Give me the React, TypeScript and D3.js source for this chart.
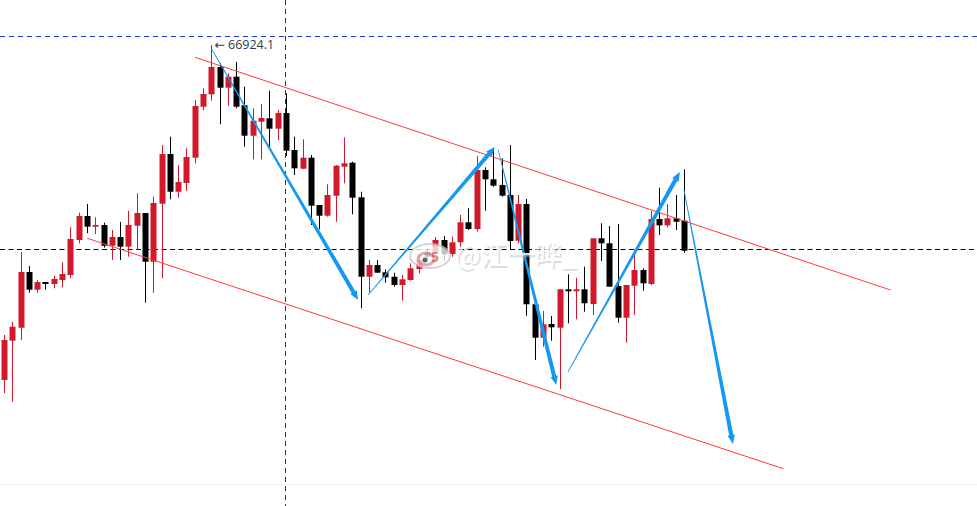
import * as d3 from "d3";

// OHLC per bar (red = rising, black = falling)
const opens = [
  63574, 63967, 64097, 64654, 64477, 64554, 64534, 64574, 64624, 64974,
  65214, 65107, 65124, 64917, 65004, 64907, 65117, 65244, 64757, 65337,
  65834, 65457, 65544, 65797, 66307, 66431, 66704, 66497, 66607, 66321,
  66017, 66157, 66191, 66087, 66244, 65874, 65687, 65797, 65324, 65217,
  65417, 65707, 65747, 65401, 64607, 64724, 64651, 64607, 64524, 64574,
  64684, 64847, 64857, 64974, 64834, 64951, 65151, 65084, 65674, 65581,
  65524, 65424, 64967, 65334, 64331, 63997, 64134, 64097, 64481, 64461,
  64481, 64334, 64991, 64941, 64514, 64197, 64517, 64674, 64534, 65184,
  65121, 65191, 65167,
];
const highs = [
  64024, 64154, 64854, 64714, 64574, 64554, 64617, 64751, 65101, 65247,
  65334, 65201, 65147, 65074, 65154, 65267, 65441, 65244, 65407, 65924,
  66007, 65724, 65891, 66374, 66491, 66924.1, 66741, 66641, 66754, 66507,
  66291, 66334, 66467, 66274, 66441, 66007, 65981, 65824, 65324, 65531,
  65724, 66001, 65757, 65457, 64774, 64774, 64681, 64647, 64624, 64741,
  64824, 64874, 65004, 65014, 65007, 65224, 65291, 65814, 65701, 65874,
  65791, 65924, 65424, 65384, 64331, 64264, 64214, 64481, 64631, 64597,
  64707, 64991, 65141, 65114, 65134, 64524, 64874, 64691, 65264, 65497,
  65334, 65424, 65681,
];
const lows = [
  63444, 63357, 63974, 64447, 64447, 64477, 64491, 64501, 64591, 64941,
  65041, 65034, 64897, 64774, 64774, 64807, 64874, 64347, 64447, 64591,
  65381, 65397, 65464, 65741, 66274, 66367, 66131, 66317, 66291, 65907,
  65781, 65781, 65891, 65974, 65814, 65624, 65681, 65124, 65081, 65207,
  65157, 65541, 65231, 64291, 64447, 64647, 64547, 64507, 64367, 64567,
  64641, 64784, 64844, 64764, 64807, 64907, 65074, 65057, 65267, 65507,
  65407, 64874, 64941, 64217, 63774, 63907, 63967, 63481, 64141, 64181,
  64257, 64224, 64764, 64507, 64147, 63947, 64224, 64467, 64524, 65024,
  65101, 65074, 64847,
];
const closes = [
  63974, 64107, 64654, 64477, 64554, 64534, 64584, 64634, 64984, 65214,
  65107, 65124, 64917, 65004, 64907, 65124, 65244, 64757, 65344, 65834,
  65457, 65554, 65804, 66314, 66434, 66704, 66497, 66607, 66307, 66017,
  66167, 66194, 66087, 66244, 65867, 65691, 65797, 65317, 65217, 65424,
  65717, 65741, 65397, 64607, 64724, 64647, 64601, 64524, 64581, 64691,
  64774, 64807, 64974, 64831, 64951, 65151, 65084, 65674, 65581, 65517,
  65417, 64964, 65334, 64331, 63997, 64131, 64101, 64481, 64461, 64481,
  64341, 64991, 64941, 64507, 64197, 64524, 64674, 64541, 65184, 65121,
  65191, 65157, 64867,
];

const markedHigh = 66924.1;
const markedBar = 25;
const lastPriceLevel = 64884;
const alertLevel = 67014;
const crosshairBar = 34;

// drawing tools, in [bar index, price]
const channelUpper = [[23.04, 66801], [106.9, 64474]];
const channelLower = [[10.05, 64991], [93.97, 62687]];
const arrows = [
  [[25.1, 66874], [42.7, 64374]],
  [[43.9, 64424], [59.2, 65904]],
  [[59.6, 65874], [66.6, 63524]],
  [[68.0, 63654], [81.5, 65654]],
  [[82.0, 65474], [87.9, 62934]],
];

const W = 977;
const H = 506;

function arrowPath(x1: number, y1: number, x2: number, y2: number) {
  const dx = x2 - x1;
  const dy = y2 - y1;
  const len = Math.hypot(dx, dy);
  const ux = dx / len, uy = dy / len;
  const nx = -uy, ny = ux;
  const w0 = 0.4, w1 = 4.2, headL = 9, headW = 7.5;
  const bx = x2 - ux * headL, by = y2 - uy * headL;
  const pts = [
    [x1 + nx * w0, y1 + ny * w0],
    [bx + nx * w1 / 2, by + ny * w1 / 2],
    [bx + nx * headW / 2, by + ny * headW / 2],
    [x2, y2],
    [bx - nx * headW / 2, by - ny * headW / 2],
    [bx - nx * w1 / 2, by - ny * w1 / 2],
    [x1 - nx * w0, y1 - ny * w0],
  ];
  return "M" + pts.map((p) => p.join(",")).join("L") + "Z";
}

export default function App() {
  const x = d3.scaleLinear().domain([0, opens.length - 1]).range([4, 684]);
  const y = d3.scaleLinear().domain([62314, 67374]).range([H, 0]);
  const up = "#d2182b";
  const down = "#000000";
  const bodyW = 6;

  const lineTool = (pts: number[][]) => d3.line()(pts.map((p) => [x(p[0]), y(p[1])]) as [number, number][]) || "";

  return (
    <svg
      width={W}
      height={H}
      style={{ position: "fixed", left: 0, top: 0, background: "#fff" }}
      fontFamily="'Open Sans', 'DejaVu Sans', sans-serif"
    >
      <rect width={W} height={H} fill="#fff" />
      <line x1={0} x2={W} y1={484.5} y2={484.5} stroke="#f1f1f1" />

      {/* level lines */}
      <line x1={0} x2={W} y1={Math.round(y(alertLevel)) + 0.5} y2={Math.round(y(alertLevel)) + 0.5}
        stroke="#1c3fd6" strokeDasharray="5,4" />
      <line x1={0} x2={W} y1={Math.round(y(lastPriceLevel)) + 0.5} y2={Math.round(y(lastPriceLevel)) + 0.5}
        stroke="#000" strokeDasharray="5,3.5" />
      <line x1={Math.round(x(crosshairBar)) - 0.5} x2={Math.round(x(crosshairBar)) - 0.5} y1={0} y2={H}
        stroke="#1a2f9e" strokeDasharray="5,4" />

      {/* candles */}
      {opens.map((o, i) => {
        const c = closes[i];
        const col = c >= o ? up : down;
        const cx = Math.round(x(i));
        const top = y(Math.max(o, c));
        const bot = y(Math.min(o, c));
        return (
          <g key={i}>
            <line x1={cx + 0.5} x2={cx + 0.5} y1={y(highs[i])} y2={y(lows[i])} stroke={col} />
            <rect x={cx - bodyW / 2 + 0.5} y={top} width={bodyW} height={Math.max(1.5, bot - top)} fill={col} />
          </g>
        );
      })}

      {/* channel */}
      <path d={lineTool(channelUpper)} stroke="#ff3c3c" strokeWidth={1} fill="none" />
      <path d={lineTool(channelLower)} stroke="#ff3c3c" strokeWidth={1} fill="none" />

      {/* arrows */}
      {arrows.map((a, i) => (
        <path key={i} d={arrowPath(x(a[0][0]), y(a[0][1]), x(a[1][0]), y(a[1][1]))} fill="#1598f2" />
      ))}

      {/* high label */}
      <text x={x(markedBar) + 3} y={y(markedHigh) + 4} fontSize={12.5} fill="#2b3a4c">
        {"← " + markedHigh.toFixed(1)}
      </text>

      {/* watermark */}
      <g opacity={0.85}>
        <ellipse cx={430} cy={256} rx={20} ry={12} fill="#fff" stroke="#c8c8c8" strokeWidth={2} opacity={0.9} />
        <ellipse cx={426} cy={259} rx={8} ry={6} fill="none" stroke="#d9a0a6" strokeWidth={3} />
        <circle cx={425} cy={260} r={2.5} fill="#444" />
        <text x={431} y={262} fontSize={14} fill="#c03040" opacity={0.7} fontWeight="bold">5</text>
        <text x={456.5} y={266.5} fontSize={27} fill="#bbbbbb" opacity={0.6}
          fontFamily="'Noto Sans CJK SC', sans-serif">@江一晔_</text>
        <text x={455} y={265} fontSize={27} fill="#ffffff"
          fontFamily="'Noto Sans CJK SC', sans-serif">@江一晔_</text>
      </g>
    </svg>
  );
}
